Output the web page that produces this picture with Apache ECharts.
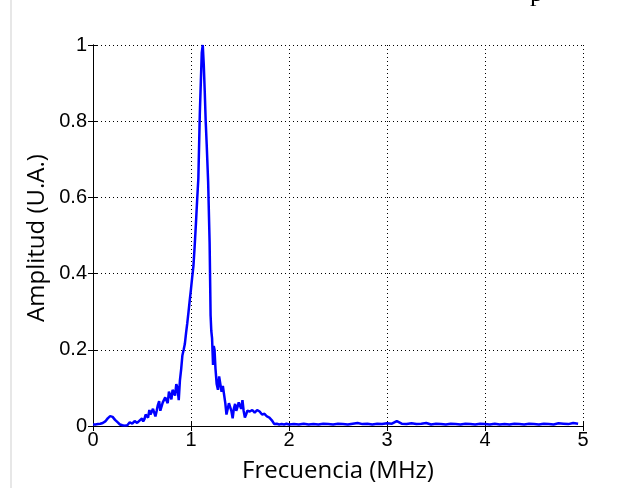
<!DOCTYPE html>
<html><head><meta charset="utf-8">
<script src="https://cdn.jsdelivr.net/npm/echarts@6/dist/echarts.min.js"></script>
<style>html,body{margin:0;padding:0;background:#fff}#c{width:630px;height:488px}</style>
</head><body><div id="c"></div>
<script>
var freq = [0,0.025,0.05,0.075,0.1,0.125,0.15,0.175,0.2,0.225,0.25,0.275,0.3,0.325,0.35,0.375,0.4,0.425,0.45,0.475,0.5,0.512,0.525,0.537,0.55,0.562,0.575,0.587,0.6,0.612,0.625,0.637,0.65,0.662,0.675,0.687,0.7,0.712,0.725,0.737,0.75,0.762,0.775,0.787,0.8,0.812,0.825,0.837,0.85,0.862,0.875,0.887,0.9,0.912,0.925,0.937,0.95,0.962,0.975,0.987,1.0,1.012,1.025,1.037,1.05,1.062,1.075,1.09,1.1,1.11,1.12,1.13,1.14,1.15,1.16,1.175,1.19,1.2,1.207,1.215,1.225,1.232,1.24,1.25,1.262,1.275,1.287,1.3,1.312,1.325,1.337,1.35,1.362,1.375,1.387,1.4,1.412,1.425,1.437,1.45,1.462,1.475,1.487,1.5,1.512,1.525,1.537,1.55,1.562,1.575,1.6,1.625,1.65,1.675,1.7,1.725,1.75,1.775,1.8,1.825,1.85,1.875,1.9,1.925,1.95,1.975,2.0,
2.05,2.1,2.15,2.2,2.25,2.3,2.35,2.4,2.45,2.5,2.55,2.6,2.65,2.7,2.75,2.8,2.85,2.9,2.95,3.0,3.05,3.1,3.15,3.2,3.25,3.3,3.35,3.4,3.45,3.5,3.55,3.6,3.65,3.7,3.75,3.8,3.85,3.9,3.95,4.0,4.05,4.1,4.15,4.2,4.25,4.3,4.35,4.4,4.45,4.5,4.55,4.6,4.65,4.7,4.75,4.8,4.85,4.9,4.95,5.0];
var amp = [0.004,0.004,0.005,0.006,0.008,0.012,0.020,0.026,0.024,0.016,0.010,0.004,0.002,0.001,0.002,0.010,0.006,0.013,0.008,0.014,0.020,0.012,0.018,0.030,0.035,0.022,0.042,0.030,0.030,0.045,0.048,0.025,0.040,0.055,0.065,0.040,0.045,0.062,0.060,0.075,0.080,0.060,0.090,0.085,0.070,0.095,0.100,0.080,0.110,0.100,0.068,0.120,0.150,0.185,0.200,0.215,0.245,0.270,0.300,0.330,0.360,0.390,0.420,0.470,0.530,0.590,0.650,0.820,0.900,0.980,1.000,0.950,0.880,0.800,0.740,0.640,0.480,0.290,0.250,0.230,0.160,0.210,0.200,0.150,0.110,0.095,0.130,0.125,0.090,0.105,0.110,0.060,0.030,0.030,0.060,0.065,0.040,0.020,0.045,0.058,0.040,0.050,0.062,0.060,0.045,0.068,0.040,0.022,0.030,0.040,0.038,0.042,0.035,0.042,0.038,0.030,0.032,0.025,0.022,0.015,0.005,0.006,0.004,0.005,0.004,0.006,0.004,
0.005,0.004,0.006,0.004,0.005,0.004,0.006,0.005,0.004,0.006,0.005,0.004,0.006,0.008,0.005,0.006,0.004,0.006,0.005,0.007,0.006,0.013,0.006,0.005,0.007,0.005,0.006,0.008,0.004,0.006,0.005,0.004,0.006,0.005,0.004,0.006,0.005,0.004,0.006,0.005,0.004,0.006,0.004,0.005,0.004,0.006,0.005,0.004,0.006,0.005,0.004,0.006,0.005,0.004,0.007,0.006,0.005,0.008,0.006];
var xTicks = [0,1,2,3,4,5];
var yTicks = [0,0.2,0.4,0.6,0.8,1];
var xName = 'Frecuencia (MHz)';
var yName = 'Amplitud (U.A.)';

var data = freq.map(function(f,i){return [f, amp[i]];});
var chart = echarts.init(document.getElementById('c'), null, {renderer:'canvas'});
var tickFont = {color:'#000', fontSize:20, fontFamily:'Liberation Sans, Arial, sans-serif'};
chart.setOption({
  animation:false,
  backgroundColor:'#fff',
  grid:{left:93, right:47, top:45, bottom:60, containLabel:false},
  xAxis:[{
    type:'value', min:0, max:5, interval:1,
    name:xName, nameLocation:'middle', nameGap:33,
    nameTextStyle:{color:'#000', fontSize:24, fontFamily:'Open Sans, Liberation Sans, sans-serif'},
    axisLine:{show:true, onZero:false, lineStyle:{color:'#000', width:1}},
    axisTick:{show:true, inside:true, length:5, lineStyle:{color:'#000'}},
    axisLabel:Object.assign({margin:4, formatter:function(v){return xTicks.indexOf(v)>=0? String(v):'';}}, tickFont),
    splitLine:{show:true, lineStyle:{color:'#000', type:[1,3], width:1}}
  },{
    type:'value', min:0, max:5, interval:1, position:'top',
    axisLine:{show:true, lineStyle:{color:'#000', width:1}},
    axisTick:{show:true, inside:true, length:5, lineStyle:{color:'#000'}},
    axisLabel:{show:false}, splitLine:{show:false}
  }],
  yAxis:[{
    type:'value', min:0, max:1, interval:0.2,
    axisLine:{show:true, onZero:false, lineStyle:{color:'#000', width:1}},
    axisTick:{show:true, inside:true, length:5, lineStyle:{color:'#000'}},
    axisLabel:Object.assign({margin:6, formatter:function(v){return String(Math.round(v*10)/10);}}, tickFont),
    splitLine:{show:true, lineStyle:{color:'#000', type:[1,3], width:1}}
  },{
    type:'value', min:0, max:1, interval:0.2, position:'right',
    axisLine:{show:true, lineStyle:{color:'#000', width:1}},
    axisTick:{show:true, inside:true, length:5, lineStyle:{color:'#000'}},
    axisLabel:{show:false}, splitLine:{show:false}
  }],
  series:[{
    type:'line', data:data, xAxisIndex:0, yAxisIndex:0,
    showSymbol:false, symbol:'none',
    lineStyle:{color:'#0000ff', width:2.5}, z:5
  }],
  graphic:[
    {type:'line', shape:{x1:11, y1:0, x2:11, y2:488}, style:{stroke:'#cfcfcf', lineWidth:1}},
    {type:'text', left:530, top:-19, style:{text:'p', fontSize:26, fontFamily:'Liberation Serif, serif', fill:'#000'}},
    {type:'text', x:37, y:238, rotation:Math.PI/2,
     style:{text:yName, fontSize:24, fontFamily:'Open Sans, Liberation Sans, sans-serif', fill:'#000', align:'center', verticalAlign:'middle'}}
  ]
});
</script></body></html>
